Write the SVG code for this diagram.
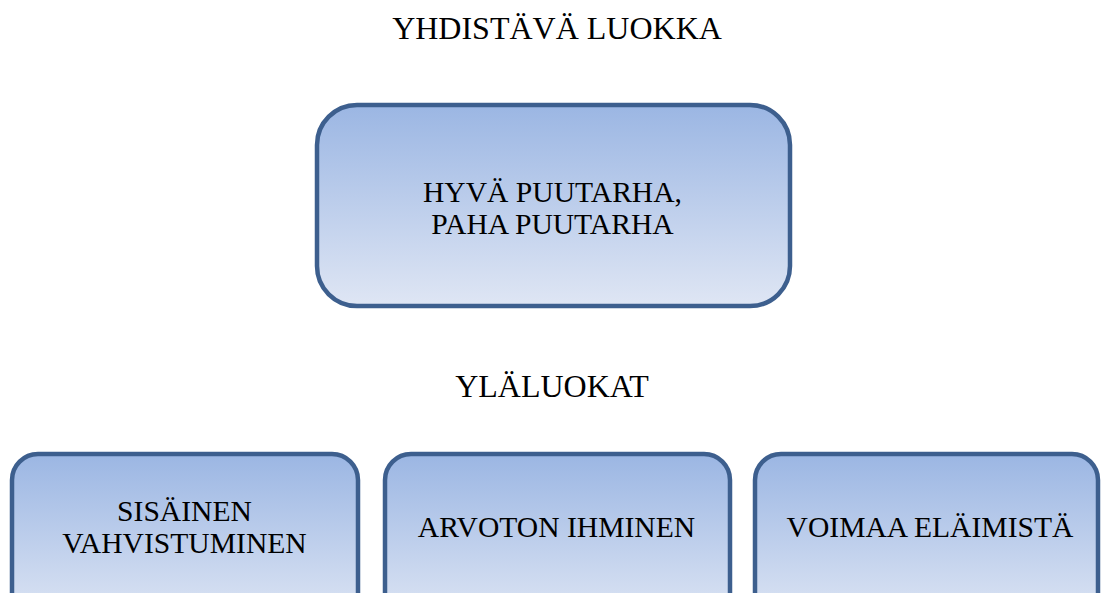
<svg xmlns="http://www.w3.org/2000/svg" width="1104" height="593" viewBox="0 0 1104 593">
<defs>
<linearGradient id="g" x1="0" y1="0" x2="0" y2="1">
<stop offset="0" stop-color="#9bb6e3"/>
<stop offset="1" stop-color="#dfe6f4"/>
</linearGradient>
<linearGradient id="g2" x1="0" y1="0" x2="0" y2="1">
<stop offset="0" stop-color="#9bb6e3"/>
<stop offset="1" stop-color="#e3e9f5"/>
</linearGradient>
</defs>
<style>
.box{fill:url(#g);stroke:#3d5f8e;stroke-width:4.5}
.bbox{fill:url(#g2);stroke:#3d5f8e;stroke-width:4.5}
text{font-family:"Liberation Serif","Times New Roman",serif;font-size:29.6px;fill:#000;text-anchor:middle}
.h{font-size:32px}
</style>
<rect width="1104" height="593" fill="#fff"/>
<text class="h" x="557" y="39">YHDISTÄVÄ LUOKKA</text>
<g id="main">
<rect class="box" x="317" y="105" width="473" height="201" rx="40" ry="40"/>
<text x="552.5" y="202">HYVÄ PUUTARHA,</text>
<text x="552.5" y="234">PAHA PUUTARHA</text>
</g>
<text class="h" x="552" y="397">YLÄLUOKAT</text>
<g id="n1">
<rect class="bbox" x="12" y="454" width="346" height="180" rx="26" ry="26"/>
<text x="184.5" y="521">SISÄINEN</text>
<text x="184.5" y="553">VAHVISTUMINEN</text>
</g>
<g id="n2">
<rect class="bbox" x="385" y="454" width="345" height="180" rx="26" ry="26"/>
<text x="556.5" y="537">ARVOTON IHMINEN</text>
</g>
<g id="n3">
<rect class="bbox" x="755" y="454" width="343" height="180" rx="26" ry="26"/>
<text x="930" y="537">VOIMAA ELÄIMISTÄ</text>
</g>
<g id="connectors"></g>
</svg>
